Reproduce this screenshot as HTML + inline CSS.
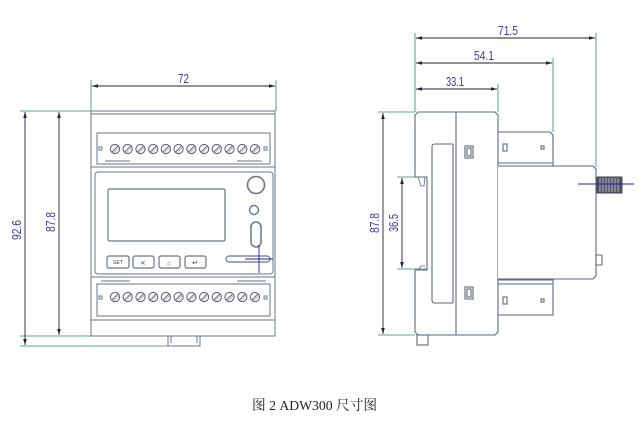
<!DOCTYPE html>
<html><head><meta charset="utf-8"><style>
html,body{margin:0;padding:0;background:#fff;width:643px;height:424px;overflow:hidden}
svg{display:block}
</style></head><body>
<svg width="643" height="424" viewBox="0 0 643 424" xmlns="http://www.w3.org/2000/svg">
<defs>
<marker id="a" viewBox="0 0 10 6" refX="10" refY="3" markerWidth="7" markerHeight="4" orient="auto-start-reverse"><path d="M0,0L10,3L0,6z" fill="#223"/></marker>
<g id="scr"><circle r="4.6" fill="#fff" stroke="#667" stroke-width="1.1"/><line x1="-3" y1="3" x2="3" y2="-3" stroke="#667" stroke-width="1"/><line x1="-1.5" y1="3.8" x2="3.8" y2="-1.5" stroke="#99a" stroke-width="0.6"/></g>
</defs>
<g fill="none" stroke="#2b8a6e" stroke-width="0.8">
<line x1="91" y1="80" x2="91" y2="111"/><line x1="276" y1="80" x2="276" y2="111"/>
<line x1="20" y1="111" x2="91" y2="111"/><line x1="20" y1="336" x2="91" y2="336"/><line x1="20" y1="346" x2="168" y2="346"/>
<line x1="415" y1="33" x2="415" y2="112"/><line x1="498" y1="84" x2="498" y2="112"/>
<line x1="553" y1="58" x2="553" y2="132"/><line x1="596" y1="33" x2="596" y2="167"/>
<line x1="378" y1="112" x2="415" y2="112"/><line x1="378" y1="335" x2="415" y2="335"/>
<line x1="397" y1="177" x2="428" y2="177"/><line x1="397" y1="269" x2="428" y2="269"/>
</g>
<g stroke="#223" stroke-width="0.9" marker-start="url(#a)" marker-end="url(#a)">
<line x1="92" y1="86" x2="275" y2="86"/>
<line x1="25" y1="112" x2="25" y2="345"/>
<line x1="59" y1="112" x2="59" y2="335"/>
<line x1="416" y1="38" x2="595" y2="38"/>
<line x1="416" y1="63" x2="552" y2="63"/>
<line x1="416" y1="89" x2="497" y2="89"/>
<line x1="383" y1="113" x2="383" y2="334"/>
<line x1="402" y1="178" x2="402" y2="268"/>
</g>
<g font-family="'Liberation Sans',sans-serif" font-size="13" fill="#3a3aa8" lengthAdjust="spacingAndGlyphs">
<text x="178" y="83" textLength="11" lengthAdjust="spacingAndGlyphs">72</text>
<text x="498" y="35" textLength="20" lengthAdjust="spacingAndGlyphs">71.5</text>
<text x="474" y="60" textLength="20" lengthAdjust="spacingAndGlyphs">54.1</text>
<text x="446" y="86" textLength="18" lengthAdjust="spacingAndGlyphs">33.1</text>
<text transform="translate(21,240) rotate(-90)" textLength="20" lengthAdjust="spacingAndGlyphs">92.6</text>
<text transform="translate(55,232) rotate(-90)" textLength="20" lengthAdjust="spacingAndGlyphs">87.8</text>
<text transform="translate(379,233) rotate(-90)" textLength="20" lengthAdjust="spacingAndGlyphs">87.8</text>
<text transform="translate(398,232) rotate(-90)" textLength="18" lengthAdjust="spacingAndGlyphs">36.5</text>
</g>
<!-- FRONT VIEW -->
<g fill="none" stroke="#6b7585" stroke-width="1">
<rect x="91" y="111" width="184" height="225" fill="#fff"/>
<line x1="91" y1="114" x2="275" y2="114"/>
<rect x="97" y="133" width="173" height="31"/>
<line x1="105" y1="161" x2="130" y2="161"/><line x1="237" y1="161" x2="262" y2="161"/>
<line x1="91" y1="167" x2="275" y2="167"/>
<rect x="95" y="172" width="178" height="102" rx="3"/>
<rect x="108" y="189" width="117" height="52" rx="1.5" stroke-width="1.2"/>
<circle cx="256" cy="185" r="8.5" stroke-width="1.6"/>
<circle cx="254" cy="210" r="4.5" stroke-width="1.4"/>
<rect x="251" y="222" width="10" height="25" rx="5" stroke-width="1.5"/>
<rect x="107" y="256" width="22" height="12" rx="2" stroke-width="1.2"/>
<rect x="133" y="256" width="21" height="12" rx="2" stroke-width="1.2"/>
<rect x="159" y="256" width="21" height="12" rx="2" stroke-width="1.2"/>
<rect x="185" y="256" width="21" height="12" rx="2" stroke-width="1.2"/>
<rect x="226" y="256" width="44" height="6" rx="3" stroke-width="1.2"/>
<line x1="91" y1="277" x2="275" y2="277"/>
<line x1="101" y1="281" x2="130" y2="281"/><line x1="237" y1="281" x2="266" y2="281"/>
<rect x="97" y="284" width="173" height="32"/>
<line x1="91" y1="320" x2="275" y2="320"/>
<path d="M168,336V346H200V336"/>
<line x1="171" y1="336" x2="171" y2="343"/><line x1="197" y1="336" x2="197" y2="343"/>
<rect x="99" y="147" width="3" height="3"/><rect x="264" y="147" width="3" height="3"/>
<rect x="99" y="296" width="3" height="3"/><rect x="264" y="296" width="3" height="3"/>
</g>
<g font-family="'Liberation Sans',sans-serif" font-size="5" fill="#334" text-anchor="middle"><text x="118" y="264">SET</text><text x="143" y="265" font-size="8">«</text><text x="169" y="265" font-size="6">⌂</text><text x="195" y="265" font-size="7">↵</text></g>
<g stroke="#2020c0" stroke-width="0.9"><line x1="245" y1="259" x2="273" y2="259"/><line x1="259" y1="245" x2="259" y2="273"/></g>
<g>
<use href="#scr" x="115" y="149"/><use href="#scr" x="127.7" y="149"/><use href="#scr" x="140.5" y="149"/><use href="#scr" x="153.2" y="149"/><use href="#scr" x="165.9" y="149"/><use href="#scr" x="178.6" y="149"/><use href="#scr" x="191.4" y="149"/><use href="#scr" x="204.1" y="149"/><use href="#scr" x="216.8" y="149"/><use href="#scr" x="229.5" y="149"/><use href="#scr" x="242.3" y="149"/><use href="#scr" x="255" y="149"/>
<use href="#scr" x="115" y="297"/><use href="#scr" x="127.7" y="297"/><use href="#scr" x="140.5" y="297"/><use href="#scr" x="153.2" y="297"/><use href="#scr" x="165.9" y="297"/><use href="#scr" x="178.6" y="297"/><use href="#scr" x="191.4" y="297"/><use href="#scr" x="204.1" y="297"/><use href="#scr" x="216.8" y="297"/><use href="#scr" x="229.5" y="297"/><use href="#scr" x="242.3" y="297"/><use href="#scr" x="255" y="297"/>
</g>
<!-- SIDE VIEW -->
<g fill="none" stroke="#5d6a7c" stroke-width="1.1">
<path d="M418,112H495L498,115V332L495,335H418L415,332V270H427V177H415V115Z" fill="#fff"/>
<path d="M418,177L421,186H424L425,177" stroke-width="0.8"/>
<path d="M418,270L421,266H425" stroke-width="0.8"/>
<line x1="456" y1="112" x2="456" y2="335"/>
<path d="M453,144H435Q432,144 432,147V300Q432,303 435,303H453"/>
<line x1="453" y1="144" x2="453" y2="303"/>
<rect x="465" y="146" width="8" height="12"/><rect x="467" y="148" width="4" height="8"/>
<rect x="465" y="287" width="8" height="12"/><rect x="467" y="289" width="4" height="8"/>
<path d="M498,132H550L553,135V167H498"/>
<line x1="498" y1="163" x2="553" y2="163"/>
<rect x="503" y="144" width="4" height="7"/><rect x="541" y="146" width="3" height="3"/>
<path d="M498,166H593L596,169V276L593,279H498" fill="#fff"/>
<path d="M498,280H553V315H498"/>
<line x1="498" y1="284" x2="553" y2="284"/>
<rect x="503" y="297" width="4" height="7"/><rect x="541" y="299" width="3" height="3"/>
<rect x="596" y="255" width="6" height="10" rx="1"/>
<rect x="417" y="335" width="11" height="10"/>
</g>
<g>
<rect x="597" y="177" width="25" height="16" fill="#556" stroke="#445"/>
<g stroke="#ccd" stroke-width="0.8"><line x1="600" y1="178" x2="600" y2="192"/><line x1="603" y1="178" x2="603" y2="192"/><line x1="606" y1="178" x2="606" y2="192"/><line x1="609" y1="178" x2="609" y2="192"/><line x1="612" y1="178" x2="612" y2="192"/><line x1="615" y1="178" x2="615" y2="192"/><line x1="618" y1="178" x2="618" y2="192"/></g>
<line x1="578" y1="184" x2="634" y2="184" stroke="#2020c0" stroke-width="0.9"/>
</g>
<text x="252" y="410" textLength="125" lengthAdjust="spacingAndGlyphs" font-family="'Liberation Serif','Noto Serif CJK SC',serif" font-size="14" fill="#222">图 2 ADW300 尺寸图</text>
</svg>
</body></html>
